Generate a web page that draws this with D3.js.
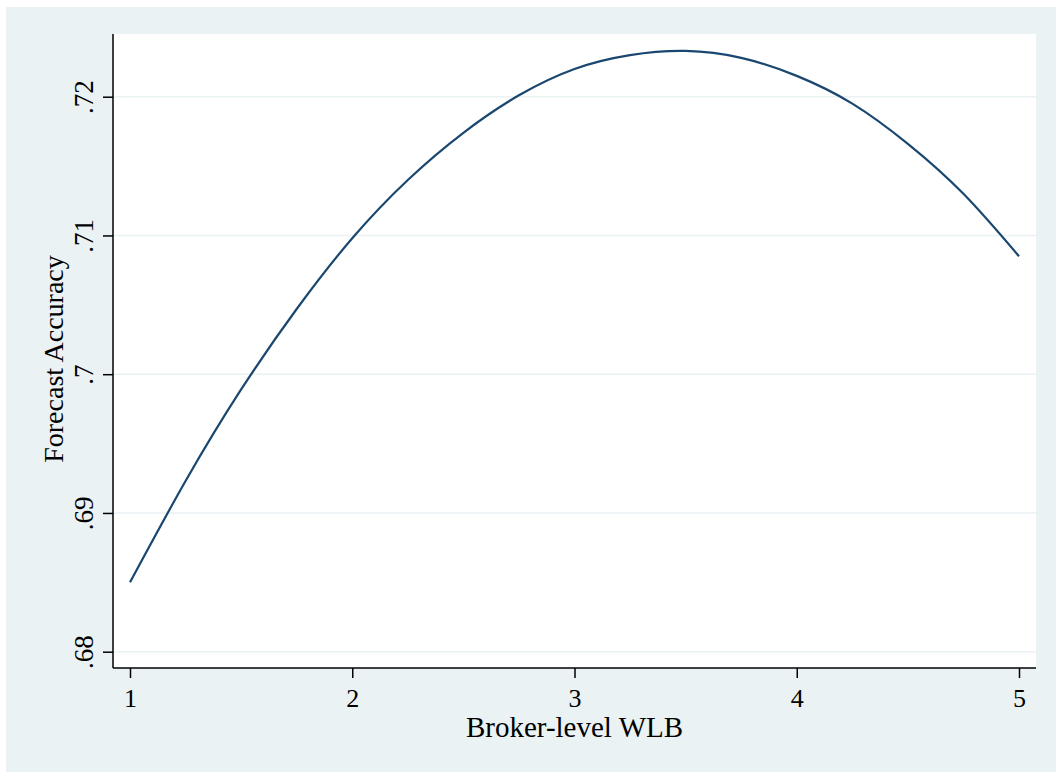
<!DOCTYPE html>
<html>
<head>
<meta charset="utf-8">
<script src="https://cdn.jsdelivr.net/npm/d3@7"></script>
<style>
	body { margin: 0; background: #ffffff; }
	svg { display: block; }
	text { font-family: 'Liberation Serif', 'Times New Roman', serif; fill: #000; }
</style>
</head>
<body>
<div id="chart"></div>
<script>
// values
const wlb = [1, 1.25, 1.5, 1.75, 2, 2.25, 2.5, 2.75, 3, 3.25, 3.5, 3.75, 4, 4.25, 4.5, 4.75, 5]
const accuracy = [0.6850, 0.6923, 0.6989, 0.7047, 0.7098, 0.7140, 0.7174, 0.7201, 0.7220, 0.7230, 0.7233, 0.7228, 0.7215, 0.7195, 0.7166, 0.7130, 0.7085]
const xTicks = [1, 2, 3, 4, 5]
const yTicks = [0.68, 0.69, 0.70, 0.71, 0.72]
const yTickLabels = ['.68', '.69', '.7', '.71', '.72']

const width = 1056
const height = 772
const plot = { left: 113, top: 34, right: 1036, bottom: 668 }

const svg = d3.select('#chart')
	.append('svg')
	.attr('width', width)
	.attr('height', height)

// outer graph region
svg.append('rect')
	.attr('x', 6)
	.attr('y', 7)
	.attr('width', width - 6)
	.attr('height', height - 7)
	.attr('fill', '#eaf2f3')

// plot region
svg.append('rect')
	.attr('x', plot.left)
	.attr('y', plot.top)
	.attr('width', plot.right - plot.left)
	.attr('height', plot.bottom - plot.top)
	.attr('fill', '#ffffff')

const x = d3.scaleLinear()
	.domain([1, 5])
	.range([130, 1019])

const y = d3.scaleLinear()
	.domain([0.68, 0.72])
	.range([651.7, 96.7])

// grid lines
svg.append('g')
	.selectAll('line')
	.data(yTicks)
	.join('line')
	.attr('x1', plot.left)
	.attr('x2', plot.right)
	.attr('y1', d => y(d))
	.attr('y2', d => y(d))
	.attr('stroke', '#eaf2f3')
	.attr('stroke-width', 1.5)

// curve
const data = wlb.map((d, i) => ({ x: d, y: accuracy[i] }))
svg.append('path')
	.datum(data)
	.attr('fill', 'none')
	.attr('stroke', '#1a476f')
	.attr('stroke-width', 2.2)
	.attr('d', d3.line().x(d => x(d.x)).y(d => y(d.y)).curve(d3.curveNatural))

// x axis
const xAxis = svg.append('g')
	.attr('transform', `translate(0,${plot.bottom})`)
	.call(d3.axisBottom(x).tickValues(xTicks).tickFormat(d3.format('d')).tickSize(10).tickPadding(11))
xAxis.select('.domain')
	.attr('d', `M${plot.left},0H${plot.right}`)
	.attr('stroke', '#000')
	.attr('stroke-width', 1.5)
xAxis.selectAll('.tick line').attr('stroke', '#000').attr('stroke-width', 1.5)
xAxis.selectAll('.tick text')
	.style('font-family', "'Liberation Serif', serif")
	.style('font-size', '26px')
	.attr('fill', '#000')

// y axis
const yAxis = svg.append('g')
	.attr('transform', `translate(${plot.left},0)`)
	.call(d3.axisLeft(y).tickValues(yTicks).tickFormat((d, i) => yTickLabels[i]).tickSize(10).tickPadding(0))
yAxis.select('.domain')
	.attr('d', `M0,${plot.top}V${plot.bottom}`)
	.attr('stroke', '#000')
	.attr('stroke-width', 1.5)
yAxis.selectAll('.tick line').attr('stroke', '#000').attr('stroke-width', 1.5)
yAxis.selectAll('.tick text')
	.attr('x', 0)
	.attr('dy', 0)
	.attr('text-anchor', 'middle')
	.attr('transform', 'translate(-20.5,0) rotate(-90)')
	.style('font-family', "'Liberation Serif', serif")
	.style('font-size', '27px')
	.attr('fill', '#000')

// axis titles
svg.append('text')
	.attr('x', (plot.left + plot.right) / 2)
	.attr('y', 737)
	.attr('text-anchor', 'middle')
	.style('font-size', '29px')
	.text('Broker-level WLB')

svg.append('text')
	.attr('transform', `translate(63,${(plot.top + plot.bottom) / 2 + 8}) rotate(-90)`)
	.attr('text-anchor', 'middle')
	.style('font-size', '28px')
	.text('Forecast Accuracy')
</script>
</body>
</html>
